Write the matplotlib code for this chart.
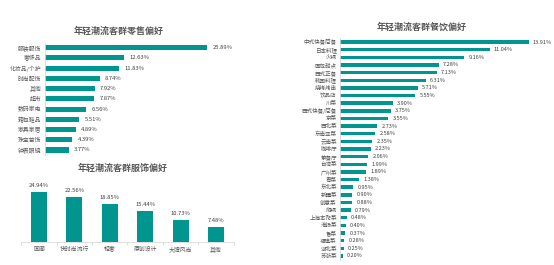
import matplotlib
matplotlib.use("Agg")
import matplotlib.pyplot as plt

plt.rcParams["font.family"] = ["Noto Sans CJK SC", "DejaVu Sans"]

# retail preference (left top)
retail_cats = ["服装服饰", "奢侈品", "化妆品/个护", "时尚配饰", "其他", "超市",
               "数码家电", "箱包鞋品", "家具家居", "珠宝首饰", "钟表眼镜"]
retail_vals = [25.89, 12.63, 11.83, 8.74, 7.92, 7.87, 6.56, 5.51, 4.89, 4.39, 3.77]

# apparel preference (left bottom)
style_cats = ["国潮", "快时尚流行", "轻奢", "原创设计", "大牌风尚", "其他"]
style_vals = [24.94, 22.56, 18.85, 15.44, 10.73, 7.48]

# dining preference (right)
food_cats = ["中式快餐简餐", "日本料理", "火锅", "面包甜点", "西式正餐", "韩国料理",
             "烧烤烤串", "饮品店", "川菜", "西式快餐/简餐", "京菜", "西北菜",
             "东南亚菜", "云南菜", "咖啡厅", "茶餐厅", "台湾菜", "广州菜", "粤菜",
             "东北菜", "新疆菜", "创意菜", "焖锅", "上海本帮菜", "淮扬菜", "鲁菜",
             "福建菜", "湖北菜", "苏浙菜"]
food_vals = [13.91, 11.04, 9.16, 7.28, 7.13, 6.31, 5.71, 5.55, 3.90, 3.75, 3.55,
             2.73, 2.58, 2.35, 2.23, 2.06, 1.99, 1.89, 1.38, 0.95, 0.90, 0.88,
             0.79, 0.48, 0.40, 0.37, 0.28, 0.25, 0.20]

TEAL = "#00968F"
LABEL = "#595959"
VALUE = "#404040"
AXIS = "#D9D9D9"
W, H = 554, 265


def px_axes(fig, left, top, right, bottom):
    """Add axes from pixel box (origin top-left)."""
    return fig.add_axes([left / W, 1 - bottom / H, (right - left) / W, (bottom - top) / H])


def hbar(ax, cats, vals, height, gap, fs):
    n = len(cats)
    ax.barh(range(n), vals, height=height, color=TEAL)
    ax.set_ylim(n - 0.5, -0.5)
    ax.set_xlim(0, max(vals))
    ax.set_yticks(range(n))
    ax.set_yticklabels(cats, fontsize=fs, color=LABEL)
    ax.tick_params(axis="y", length=0, pad=2.5)
    ax.set_xticks([])
    for s in ["top", "right", "bottom"]:
        ax.spines[s].set_visible(False)
    ax.spines["left"].set_color(AXIS)
    ax.spines["left"].set_linewidth(0.6)
    for i, v in enumerate(vals):
        ax.annotate(f"{v:.2f}%", (v, i), xytext=(gap, 0), textcoords="offset points",
                    va="center", ha="left", fontsize=fs, color=VALUE, clip_on=False)


fig = plt.figure(figsize=(W / 100, H / 100), dpi=100)

ax1 = px_axes(fig, 45, 42.6, 207, 155.1)
hbar(ax1, retail_cats, retail_vals, 0.5, 4, 4.2)
fig.text(119 / W, 1 - 31 / H, "年轻潮流客群零售偏好", ha="center", va="center",
         fontsize=6.5, fontweight="bold", color=LABEL)

ax2 = px_axes(fig, 21.3, 182.3, 233.7, 241.7)
ax2.bar(range(len(style_cats)), style_vals, width=0.45, color=TEAL)
ax2.set_xlim(-0.5, len(style_cats) - 0.5)
ax2.set_ylim(0, 30)
ax2.set_yticks([])
ax2.set_xticks(range(len(style_cats)))
ax2.set_xticklabels(style_cats, fontsize=4.2, color=LABEL)
ax2.set_xticks([i + 0.5 for i in range(-1, len(style_cats))], minor=True)
ax2.tick_params(axis="x", which="major", length=0, pad=3.5)
ax2.tick_params(axis="x", which="minor", length=2.5, color=AXIS, width=0.6)
for s in ["top", "right", "left"]:
    ax2.spines[s].set_visible(False)
ax2.spines["bottom"].set_color(AXIS)
ax2.spines["bottom"].set_linewidth(0.6)
for i, v in enumerate(style_vals):
    ax2.annotate(f"{v:.2f}%", (i, v), xytext=(0, 3), textcoords="offset points",
                 ha="center", va="bottom", fontsize=4.2, color=VALUE)
fig.text(123 / W, 1 - 168 / H, "年轻潮流客群服饰偏好", ha="center", va="center",
         fontsize=6.5, fontweight="bold", color=LABEL)

ax3 = px_axes(fig, 340.3, 38.2, 528.7, 259.8)
hbar(ax3, food_cats, food_vals, 0.45, 3, 4.0)
fig.text(422 / W, 1 - 27 / H, "年轻潮流客群餐饮偏好", ha="center", va="center",
         fontsize=6.5, fontweight="bold", color=LABEL)

fig.savefig("out.png", dpi=100)
